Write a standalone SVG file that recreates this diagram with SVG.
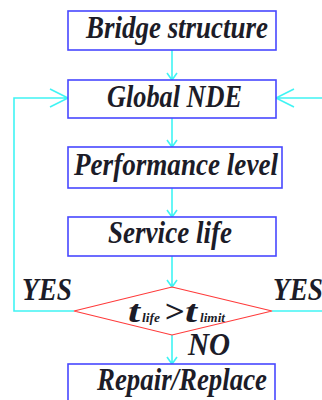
<svg xmlns="http://www.w3.org/2000/svg" width="322" height="400" viewBox="0 0 322 400">
<style>
.box{fill:#fff;stroke:#4848ff;stroke-width:1.6}
.dia{fill:#fff;stroke:#ff3a3a;stroke-width:1.1}
.ln{fill:none;stroke:#40f4f4;stroke-width:1.6}
.t{font-family:"Liberation Serif","Times New Roman",serif;font-weight:bold;font-style:italic;font-size:32px;fill:#1c1c28}
.s{font-size:13px}
</style>
<rect width="322" height="400" fill="#fff"/>
<g id="connectors">
<path class="ln" d="M172 50V80M167 73L172 80L177 73"/>
<path class="ln" d="M172 118V147M167 140L172 147L177 140"/>
<path class="ln" d="M172 188V217M167 210L172 217L177 210"/>
<path class="ln" d="M172 256V287M167 280L172 287L177 280"/>
<path class="ln" d="M172 335V364M167 357L172 364L177 357"/>
<path class="ln" d="M74 311H14V98H68M50 89L68 98L50 107"/>
<path class="ln" d="M272 311H322"/>
<path class="ln" d="M322 98H276M294 89L276 98L294 107"/>
</g>
<g id="n1"><rect class="box" x="68" y="11" width="208" height="39"/><text class="t" x="86" y="38" textLength="182" lengthAdjust="spacingAndGlyphs">Bridge structure</text></g>
<g id="n2"><rect class="box" x="68" y="80" width="208" height="38"/><text class="t" x="107" y="107" textLength="135" lengthAdjust="spacingAndGlyphs">Global NDE</text></g>
<g id="n3"><rect class="box" x="68" y="147" width="214" height="41"/><text class="t" x="74" y="175" textLength="204" lengthAdjust="spacingAndGlyphs">Performance level</text></g>
<g id="n4"><rect class="box" x="68" y="217" width="208" height="39"/><text class="t" x="108" y="243" textLength="124" lengthAdjust="spacingAndGlyphs">Service life</text></g>
<g id="n5"><polygon class="dia" points="172,287 272,311 172,335 74,311"/><text class="t" x="128" y="322"><tspan textLength="12" lengthAdjust="spacingAndGlyphs">t</tspan><tspan class="s" x="142" textLength="18" lengthAdjust="spacingAndGlyphs">life</tspan><tspan x="164" textLength="20" lengthAdjust="spacingAndGlyphs">&gt;</tspan><tspan x="185" textLength="12" lengthAdjust="spacingAndGlyphs">t</tspan><tspan class="s" x="200" textLength="25" lengthAdjust="spacingAndGlyphs">limit</tspan></text></g>
<g id="n6"><rect class="box" x="68" y="364" width="207" height="40"/><text class="t" x="97" y="390" textLength="170" lengthAdjust="spacingAndGlyphs">Repair/Replace</text></g>
<g id="labels">
<text class="t" x="22" y="300" textLength="50" lengthAdjust="spacingAndGlyphs">YES</text>
<text class="t" x="273" y="300" textLength="50" lengthAdjust="spacingAndGlyphs">YES</text>
<text class="t" x="188" y="355" textLength="42" lengthAdjust="spacingAndGlyphs">NO</text>
</g>
</svg>
